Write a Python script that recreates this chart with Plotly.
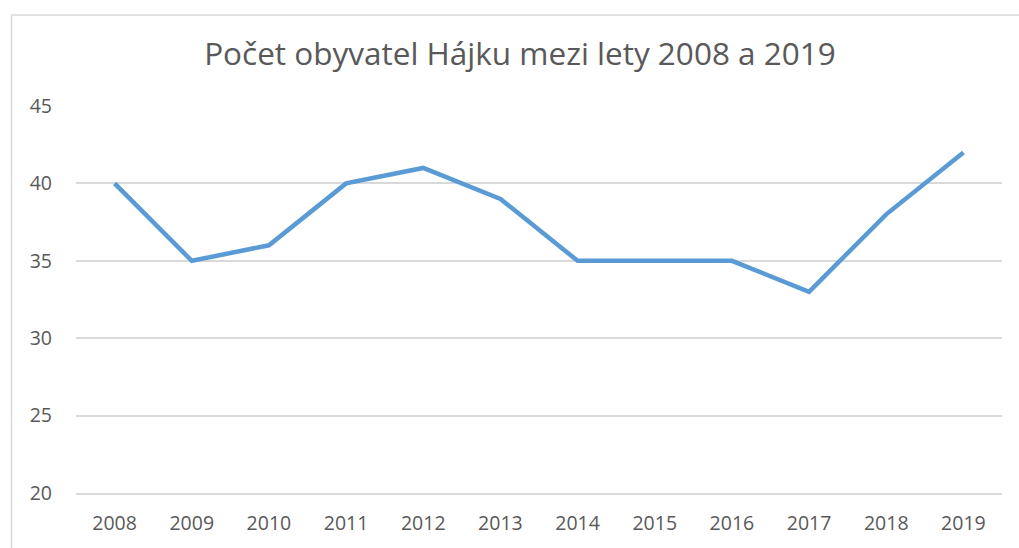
import plotly.graph_objects as go

years = ["2008", "2009", "2010", "2011", "2012", "2013", "2014", "2015", "2016", "2017", "2018", "2019"]
population = [40, 35, 36, 40, 41, 39, 35, 35, 35, 33, 38, 42]
y_ticks = [20, 25, 30, 35, 40, 45]
title_text = "Počet obyvatel Hájku mezi lety 2008 a 2019"

W, H = 1019, 548
ml, mr, mt, mb = 76, 17, 106, 44
pw, ph = W - ml - mr, H - mt - mb

def px_to_paper_x(px):
    return (px - ml) / pw

def px_to_paper_y(py):
    return (H - mb - py) / ph

fig = go.Figure()
fig.add_trace(go.Scatter(
    x=years, y=population, mode="lines",
    line=dict(color="#5B9BD5", width=4.5),
    hoverinfo="x+y",
))

font_family = "Open Sans, Liberation Sans, sans-serif"
fig.update_layout(
    width=W, height=H,
    margin=dict(l=ml, r=mr, t=mt, b=mb),
    paper_bgcolor="white", plot_bgcolor="white",
    showlegend=False,
    font=dict(family=font_family, color="#595959", size=19),
    title=dict(text=title_text, x=px_to_paper_x(520), xref="paper", xanchor="center",
               y=1 - 54 / H, yanchor="middle",
               font=dict(family=font_family, size=31.5, color="#595959")),
    xaxis=dict(type="category", range=[-0.5, len(years) - 0.5], showgrid=False,
               zeroline=False, showline=True, linecolor="#D9D9D9", linewidth=1.5,
               ticks="", ticklabelstandoff=12, tickfont=dict(size=19.5)),
    yaxis=dict(range=[y_ticks[0], y_ticks[-1]], tickvals=y_ticks, showgrid=True,
               gridcolor="#D9D9D9", gridwidth=1.5, zeroline=False, showline=False,
               ticks="", ticklabelstandoff=23, tickfont=dict(size=19.5)),
    shapes=[
        dict(type="line", xref="paper", yref="paper",
             x0=px_to_paper_x(11.5), x1=px_to_paper_x(1100),
             y0=px_to_paper_y(12.5), y1=px_to_paper_y(12.5),
             line=dict(color="#D9D9D9", width=1.5)),
        dict(type="line", xref="paper", yref="paper",
             x0=px_to_paper_x(11.5), x1=px_to_paper_x(11.5),
             y0=px_to_paper_y(12.5), y1=px_to_paper_y(600),
             line=dict(color="#D9D9D9", width=1.5)),
    ],
)

fig.write_html("out.html", config={"displayModeBar": False},
               post_script="document.body.style.margin='0';")
